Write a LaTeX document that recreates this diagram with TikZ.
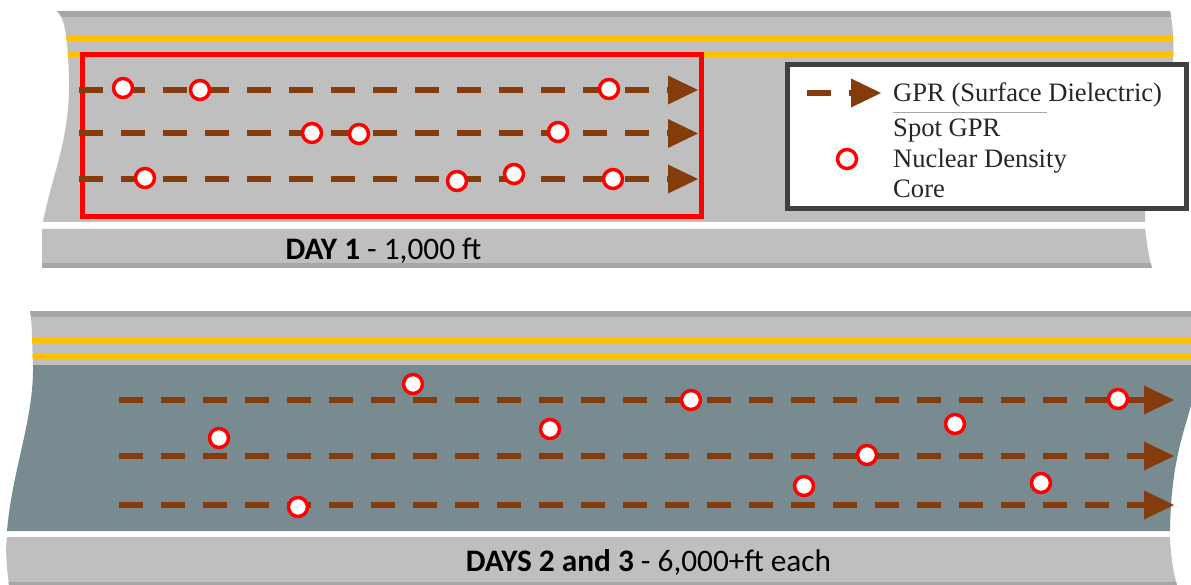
\documentclass[tikz,border=0pt]{standalone}
\usepackage{fontspec}
\setmainfont{Liberation Serif}
\newfontfamily\capfont{Carlito}
\usetikzlibrary{arrows.meta}
\definecolor{roadgray}{HTML}{BFBFBF}
\definecolor{edgegray}{HTML}{A6A6A6}
\definecolor{lineyellow}{HTML}{FFC000}
\definecolor{asphalt}{HTML}{788B91}
\definecolor{gprbrown}{HTML}{843C0C}
\definecolor{legendframe}{HTML}{404040}
\begin{document}
\begin{tikzpicture}[x=1pt,y=-1pt,
  gpr/.style={draw=gprbrown, line width=6pt, dash pattern=on 24pt off 18pt,
    -{Triangle[length=30pt,width=29pt,line width=0pt,fill=gprbrown]}},
  spot/.style={circle, draw=red, fill=white, line width=3.5pt, minimum size=19pt, inner sep=0pt},
  caption/.style={font=\capfont\fontsize{31.3}{36}\selectfont, anchor=base, text=black, inner sep=0pt},
  legtext/.style={font=\fontsize{26.6}{30}\selectfont, anchor=base west, text=black!85, inner sep=0pt},
]
\useasboundingbox (0,0) rectangle (1191,585);

% ---------- top road (day 1) ----------
\def\toproadpath{(57,11) -- (1170,11) .. controls (1173,25) and (1174,45) .. (1173,60) -- (1145,213) -- (1145,222) -- (43,222) .. controls (52,175) and (70,140) .. (69,80) .. controls (68,40) and (65,18) .. (57,11) -- cycle}
\fill[roadgray] \toproadpath;
\begin{scope}
  \clip \toproadpath;
  \fill[edgegray] (0,11) rectangle (1191,17);
  \fill[lineyellow] (0,35) rectangle (1191,41);
  \fill[lineyellow] (0,52) rectangle (1191,57);
\end{scope}
\def\topshoulderpath{(42,229) -- (1145,229) .. controls (1147,245) and (1149,258) .. (1152,268) -- (42,268) -- cycle}
\fill[roadgray] \topshoulderpath;
\begin{scope}
  \clip \topshoulderpath;
  \fill[edgegray] (0,263) rectangle (1191,268);
\end{scope}

% ---------- bottom road (days 2 and 3) ----------
\def\botupperpath{(30,311) -- (1191,311) -- (1191,365) -- (33,365) .. controls (32,340) and (32,320) .. (30,311) -- cycle}
\fill[roadgray] \botupperpath;
\begin{scope}
  \clip \botupperpath;
  \fill[edgegray] (0,311) rectangle (1191,317);
  \fill[lineyellow] (0,337) rectangle (1191,343);
  \fill[lineyellow] (0,354) rectangle (1191,360);
\end{scope}
\fill[asphalt] (33,365) -- (1191,365) -- (1191,405) .. controls (1185,430) and (1171,460) .. (1170,531) -- (7,531) .. controls (12,470) and (34,420) .. (33,365) -- cycle;
\def\botshoulderpath{(7,537) -- (1170,537) .. controls (1171,560) and (1174,575) .. (1177,585) -- (9,585) .. controls (7,570) and (5,550) .. (7,537) -- cycle}
\fill[roadgray] \botshoulderpath;
\begin{scope}
  \clip \botshoulderpath;
  \fill[edgegray] (0,582) rectangle (1191,585);
\end{scope}

% ---------- day 1 box ----------
\node[draw=red, line width=5pt, minimum width=619pt, minimum height=162.5pt,
      anchor=north west, inner sep=0pt, outer sep=0pt] (dayonebox) at (82.5,54.5) {};

% ---------- GPR passes, day 1 ----------
\coordinate (a1s) at (79,90);    \coordinate (a1e) at (698,90);
\coordinate (a2s) at (79,133.5); \coordinate (a2e) at (698,133.5);
\coordinate (a3s) at (79,179);   \coordinate (a3e) at (698,179);
\draw[gpr] (a1s) -- (a1e);
\draw[gpr] (a2s) -- (a2e);
\draw[gpr] (a3s) -- (a3e);

% ---------- GPR passes, days 2 and 3 ----------
\coordinate (b1s) at (119,400); \coordinate (b1e) at (1174,400);
\coordinate (b2s) at (119,456); \coordinate (b2e) at (1174,456);
\coordinate (b3s) at (119,505); \coordinate (b3e) at (1174,505);
\draw[gpr] (b1s) -- (b1e);
\draw[gpr] (b2s) -- (b2e);
\draw[gpr] (b3s) -- (b3e);

% ---------- spot tests, day 1 ----------
\node[spot] (p1) at (123,88) {};
\node[spot] (p2) at (200,90) {};
\node[spot] (p3) at (609,89) {};
\node[spot] (p4) at (312,133) {};
\node[spot] (p5) at (359,134) {};
\node[spot] (p6) at (558,132) {};
\node[spot] (p7) at (145,178) {};
\node[spot] (p8) at (457,181) {};
\node[spot] (p9) at (514,174) {};
\node[spot] (p10) at (613,179) {};

% ---------- spot tests, days 2 and 3 ----------
\node[spot] (q1) at (413,384) {};
\node[spot] (q2) at (691,400) {};
\node[spot] (q3) at (1118,399) {};
\node[spot] (q4) at (219,438) {};
\node[spot] (q5) at (550,429) {};
\node[spot] (q6) at (955,424) {};
\node[spot] (q7) at (867,455) {};
\node[spot] (q8) at (298,507) {};
\node[spot] (q9) at (804,486) {};
\node[spot] (q10) at (1041,483) {};

% ---------- legend ----------
\node[draw=legendframe, line width=5pt, fill=white, minimum width=399pt, minimum height=144pt,
      anchor=north west, inner sep=0pt, outer sep=0pt] (legend) at (787.5,64.5) {};
\coordinate (ls) at (807,93); \coordinate (le) at (881,93);
\draw[gpr] (ls) -- (le);
\node[spot] (lc) at (847,159) {};
\node[legtext] (l1) at (893,102) {GPR (Surface Dielectric)};
\draw[edgegray, line width=0.6pt] (893,112) -- (1047,112);
\node[legtext] (l2) at (893,137) {Spot GPR};
\node[legtext] (l3) at (893,168) {Nuclear Density};
\node[legtext] (l4) at (893,198) {Core};

% ---------- captions ----------
\node[caption] (cap1) at (383.5,260) {\textbf{DAY 1} - 1,000 ft};
\node[caption] (cap2) at (648.5,571) {\textbf{DAYS 2 and 3} - 6,000+ft each};
\end{tikzpicture}
\end{document}
